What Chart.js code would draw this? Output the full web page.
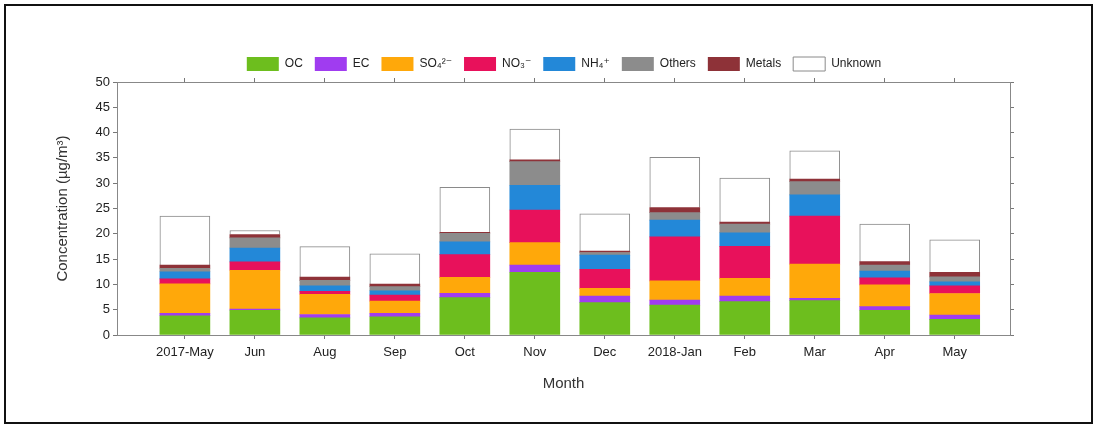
<!DOCTYPE html>
<html>
<head>
<meta charset="utf-8">
<script src="https://cdn.jsdelivr.net/npm/chart.js@4.4.0/dist/chart.umd.min.js"></script>
<style>
  html, body { margin: 0; padding: 0; background: #fff; }
  #wrap { position: relative; width: 1097px; height: 427px; }
  #frame { position: absolute; left: 4px; top: 4px; width: 1085px; height: 416px; border: 2px solid #111; pointer-events: none; }
  canvas { position: absolute; left: 0; top: 0; }
</style>
</head>
<body>
<div id="wrap">
  <canvas id="chart" width="1097" height="427"></canvas>
  <div id="frame"></div>
</div>
<script>
// Monthly PM composition (µg/m³)
const months = ['2017-May', 'Jun', 'Aug', 'Sep', 'Oct', 'Nov', 'Dec', '2018-Jan', 'Feb', 'Mar', 'Apr', 'May'];

const ocValues      = [3.8, 4.9, 3.4, 3.6, 7.4, 12.4, 6.4, 5.9, 6.6, 6.8, 4.9, 3.1];
const ecValues      = [0.5, 0.2, 0.65, 0.7, 0.85, 1.4, 1.3, 1.0, 1.1, 0.45, 0.7, 0.85];
const so4Values     = [5.8, 7.7, 4.0, 2.4, 3.15, 4.45, 1.5, 3.8, 3.5, 6.75, 4.3, 4.25];
const no3Values     = [1.0, 1.65, 0.6, 1.2, 4.5, 6.45, 3.8, 8.7, 6.3, 9.5, 1.4, 1.5];
const nh4Values     = [1.4, 2.75, 1.05, 0.85, 2.5, 4.9, 2.8, 3.3, 2.7, 4.2, 1.35, 0.8];
const othersValues  = [0.7, 2.0, 1.1, 0.8, 1.7, 4.65, 0.5, 1.5, 1.7, 2.6, 1.15, 1.0];
const metalsValues  = [0.6, 0.65, 0.65, 0.5, 0.2, 0.35, 0.3, 1.0, 0.4, 0.5, 0.7, 0.9];
const unknownValues = [9.7, 0.8, 6.0, 6.0, 8.9, 6.1, 7.35, 9.9, 8.7, 5.6, 7.4, 6.4];

const yTicks = [0, 5, 10, 15, 20, 25, 30, 35, 40, 45, 50];

const FONT = 'Arial, "Liberation Sans", "DejaVu Sans", sans-serif';

const toPoints = (values) => values.map((v, i) => ({ x: i, y: v }));

const series = [
  { label: 'OC', data: ocValues, color: '#6DBE1E' },
  { label: 'EC', data: ecValues, color: '#A03CF0' },
  { label: 'SO\u2084\u00B2\u207B', data: so4Values, color: '#FFA80A' },
  { label: 'NO\u2083\u207B', data: no3Values, color: '#E8115B' },
  { label: 'NH\u2084\u207A', data: nh4Values, color: '#2388D8' },
  { label: 'Others', data: othersValues, color: '#8C8C8C' },
  { label: 'Metals', data: metalsValues, color: '#8E3238' },
  { label: 'Unknown', data: unknownValues, color: '#FFFFFF' }
];

const datasets = series.map(s => ({
  label: s.label,
  data: toPoints(s.data),
  backgroundColor: s.color,
  borderColor: s.label === 'Unknown' ? '#8a8a8a' : s.color,
  borderWidth: s.label === 'Unknown' ? 1 : 0,
  borderSkipped: 'bottom',
  barThickness: 50,
  xAxisID: 'x',
  yAxisID: 'y'
}));

// x is a linear index axis so the bars can sit where the original put them
const xMin = -0.97;
const xMax = 11.79;

new Chart(document.getElementById('chart'), {
  type: 'bar',
  data: { datasets: datasets },
  options: {
    responsive: false,
    animation: false,
    devicePixelRatio: 1,
    layout: { padding: { left: 50, right: 19, top: 45, bottom: 20 } },
    plugins: {
      legend: {
        position: 'top',
        labels: {
          boxWidth: 32,
          boxHeight: 14,
          padding: 12,
          color: '#222',
          font: { family: FONT, size: 12 }
        }
      },
      tooltip: { enabled: false }
    },
    scales: {
      x: {
        type: 'linear',
        position: 'bottom',
        stacked: true,
        min: xMin,
        max: xMax,
        offset: false,
        grid: { offset: false, drawOnChartArea: false, tickLength: 4, color: '#777' },
        border: { color: '#888' },
        ticks: {
          stepSize: 1,
          includeBounds: false,
          autoSkip: false,
          maxRotation: 0,
          maxTicksLimit: 20,
          padding: 6,
          color: '#222',
          font: { family: FONT, size: 13 },
          callback: (value) => (Number.isInteger(value) && months[value]) ? months[value] : ''
        },
        title: {
          display: true,
          text: 'Month',
          color: '#333',
          font: { family: FONT, size: 15 },
          padding: { top: 4, bottom: 14 }
        },
        afterFit: (scale) => { scale.height = 72; }
      },
      xTop: {
        type: 'linear',
        position: 'top',
        min: xMin,
        max: xMax,
        offset: false,
        grid: { offset: false, drawOnChartArea: false, tickLength: 4, color: '#777' },
        border: { color: '#888' },
        ticks: { display: false, stepSize: 1, includeBounds: false, maxTicksLimit: 20 },
        afterFit: (scale) => { scale.height = 1; }
      },
      y: {
        type: 'linear',
        position: 'left',
        stacked: true,
        min: 0,
        max: 50,
        afterBuildTicks: (scale) => { scale.ticks = yTicks.map(v => ({ value: v })); },
        grid: { drawOnChartArea: false, tickLength: 4, color: '#777' },
        border: { color: '#888' },
        ticks: {
          padding: 3,
          color: '#222',
          font: { family: FONT, size: 13 }
        },
        title: {
          display: true,
          text: 'Concentration (\u00B5g/m\u00B3)',
          color: '#333',
          font: { family: FONT, size: 15 },
          padding: { top: 4, bottom: 4 }
        },
        afterFit: (scale) => { scale.width = 67; }
      },
      yRight: {
        type: 'linear',
        position: 'right',
        min: 0,
        max: 50,
        afterBuildTicks: (scale) => { scale.ticks = yTicks.map(v => ({ value: v })); },
        grid: { drawOnChartArea: false, tickLength: 4, color: '#777' },
        border: { color: '#888' },
        ticks: { display: false },
        afterFit: (scale) => { scale.width = 68; }
      }
    }
  }
});
</script>
</body>
</html>
